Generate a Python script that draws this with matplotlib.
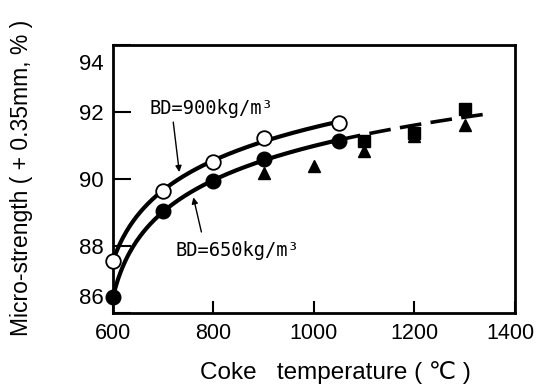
import numpy as np
import matplotlib
matplotlib.use("Agg")
import matplotlib.pyplot as plt
from matplotlib.transforms import ScaledTranslation

# Micro-strength of coke vs. coke temperature
temp_900 = [600, 700, 800, 900, 1050]
ms_900 = [87.56, 89.65, 90.52, 91.23, 91.66]          # BD = 900 kg/m3 (open circles)

temp_650 = [600, 700, 800, 900, 1050]
ms_650 = [86.48, 89.04, 89.93, 90.60, 91.15]          # BD = 650 kg/m3 (filled circles)

temp_tri = [900, 1000, 1100, 1200, 1300]
ms_tri = [90.18, 90.40, 90.83, 91.30, 91.60]          # filled triangles

temp_sq = [1100, 1200, 1300]
ms_sq = [91.15, 91.37, 92.10]                         # filled squares

x_ticks = [600, 800, 1000, 1200, 1400]
y_ticks = [86, 88, 90, 92, 94]

LABEL_FONT = ["Liberation Sans", "DejaVu Sans"]


def log_fit(t, v):
    """Fit v = a + b*ln(t - c) by a grid search on c."""
    t = np.asarray(t, float)
    v = np.asarray(v, float)
    best = None
    for c in np.arange(300.0, min(t) - 2.0, 1.0):
        A = np.column_stack([np.ones_like(t), np.log(t - c)])
        coef, *_ = np.linalg.lstsq(A, v, rcond=None)
        err = np.sum((A @ coef - v) ** 2)
        if best is None or err < best[0]:
            best = (err, coef, c)
    _, (a, b), c = best
    return lambda x: a + b * np.log(np.asarray(x, float) - c)


f900 = log_fit(temp_900, ms_900)
f650 = log_fit(temp_650, ms_650)

fig = plt.figure(figsize=(5.38, 3.92), dpi=100)
ax = fig.add_axes([0.210, 0.2015, 0.747, 0.6835])

# fitted curves
xs = np.linspace(temp_900[0] + 2, temp_900[-1], 200)
ax.plot(xs, f900(xs), color="black", lw=3.0, solid_capstyle="round", zorder=2)
xs = np.linspace(temp_650[0] + 2, temp_650[-1], 200)
ax.plot(xs, f650(xs), color="black", lw=3.0, solid_capstyle="round", zorder=2)
xe = np.linspace(temp_650[-1], 1345, 100)
ax.plot(xe, f650(xe), color="black", lw=2.6, dashes=(6, 2.6), zorder=2)

# data points
ax.plot(temp_tri, ms_tri, linestyle="none", marker="^", ms=9,
        color="black", zorder=3)
ax.plot(temp_sq, ms_sq, linestyle="none", marker="s", ms=8.5,
        color="black", zorder=3)
ax.plot(temp_650, ms_650, linestyle="none", marker="o", ms=10.5,
        color="black", zorder=4, clip_on=False)
ax.plot(temp_900, ms_900, linestyle="none", marker="o", ms=10.5,
        mfc="white", mec="black", mew=1.3, zorder=4, clip_on=False)

# curve labels with pointer arrows
ax.text(795, 92.1, "BD=900kg/m³", family="DejaVu Sans Mono", fontsize=13.5,
        ha="center", va="center")
ax.annotate("", xy=(732, f900(732) + 0.2), xytext=(720, 91.7),
            arrowprops=dict(arrowstyle="-|>", lw=1.0, color="black",
                            mutation_scale=9, shrinkA=0, shrinkB=0))
ax.text(848, 87.88, "BD=650kg/m³", family="DejaVu Sans Mono", fontsize=13.5,
        ha="center", va="center")
ax.annotate("", xy=(760, f650(760) - 0.2), xytext=(776, 88.42),
            arrowprops=dict(arrowstyle="-|>", lw=1.0, color="black",
                            mutation_scale=9, shrinkA=0, shrinkB=0))

ax.set_xlim(600, 1400)
ax.set_ylim(86, 94)
ax.set_xticks(x_ticks)
ax.set_yticks(y_ticks)
ax.set_xticklabels([str(v) for v in x_ticks], family=LABEL_FONT, fontsize=15.5)
ax.set_yticklabels([str(v) for v in y_ticks], family=LABEL_FONT, fontsize=16)
ax.tick_params(axis="y", direction="in", length=13, width=1.5, pad=7)
ax.tick_params(axis="x", direction="in", length=9, width=1.5, pad=7)
for s in ax.spines.values():
    s.set_linewidth(2.0)

# end labels of the value axis sit just inside the frame
ylabels = ax.get_yticklabels()
ylabels[0].set_transform(ylabels[0].get_transform()
                         + ScaledTranslation(0, 0.17, fig.dpi_scale_trans))
ylabels[-1].set_transform(ylabels[-1].get_transform()
                          + ScaledTranslation(0, -0.17, fig.dpi_scale_trans))
xlabels = ax.get_xticklabels()
xlabels[-1].set_transform(xlabels[-1].get_transform()
                          + ScaledTranslation(-0.04, 0, fig.dpi_scale_trans))

ax.set_xlabel("Coke   temperature ( ℃ )", family=LABEL_FONT, fontsize=17.5,
              va="center")
ax.xaxis.set_label_coords(0.553, -0.222)
ax.set_ylabel("Micro-strength ( + 0.35mm, % )", family=LABEL_FONT,
              fontsize=16.5, va="center")
ax.yaxis.set_label_coords(-0.227, 0.505)

fig.savefig("out.png", dpi=100)
